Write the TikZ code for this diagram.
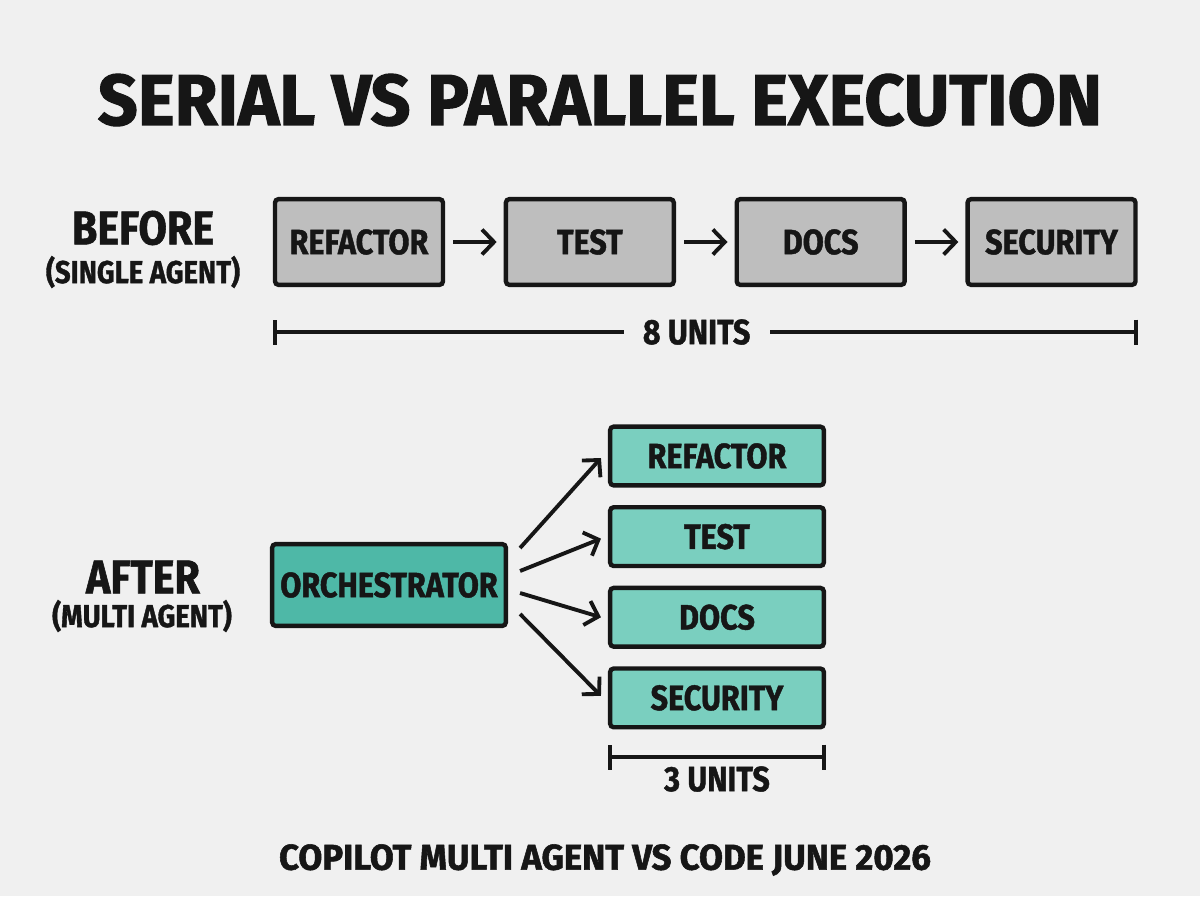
\documentclass[tikz,border=0pt]{standalone}
\usepackage{fontspec}
\setmainfont{Fira Sans}[FakeStretch=0.87,FakeBold=1.2]
\newfontfamily\widefont{Fira Sans}[FakeStretch=0.97,FakeBold=1.5]
\usetikzlibrary{arrows.meta,calc,positioning}
\definecolor{PaperGray}{RGB}{240,240,240}
\definecolor{BoxGray}{RGB}{190,190,190}
\definecolor{TealDark}{RGB}{78,184,167}
\definecolor{TealLight}{RGB}{122,207,191}
\definecolor{InkBlack}{RGB}{22,22,22}
\tikzset{
  taskbox/.style={draw=InkBlack,line width=2.5pt,rounded corners=2pt,
    text=InkBlack,font=\bfseries\fontsize{20}{22}\selectfont},
  serialbox/.style={taskbox,fill=BoxGray,minimum width=3.36cm,minimum height=1.715cm},
  agentbox/.style={taskbox,fill=TealLight,minimum width=4.275cm,minimum height=1.175cm},
  flowarrow/.style={->,line width=2.2pt,InkBlack},
  spanline/.style={{Bar[width=5mm]}-{Bar[width=5mm]},line width=2.2pt,InkBlack},
  spanlabel/.style={text=InkBlack,font=\bfseries\fontsize{20}{22}\selectfont},
  sidehead/.style={text=InkBlack,font=\bfseries\fontsize{27}{30}\selectfont},
  sidesub/.style={text=InkBlack,font=\bfseries\fontsize{18}{20}\selectfont}
}

\begin{document}
\begin{tikzpicture}[x=0.02cm,y=-0.02cm,>={Straight Barb[length=2.4mm,width=5mm]}]
  \path[use as bounding box,fill=PaperGray] (0,0) rectangle (1200,896);

  % title
  \node[text=InkBlack,font=\widefont\bfseries\fontsize{41}{44}\selectfont] (title) at (600,100)
    {SERIAL VS PARALLEL EXECUTION};

  % before: one agent, tasks in a row
  \node[sidehead] (before) at (143,228) {BEFORE};
  \node[sidesub] (beforesub) at (143,272) {(SINGLE AGENT)};
  \node[serialbox] (sRefactor) at (359,242) {REFACTOR};
  \node[serialbox,right=1.17cm of sRefactor] (sTest) {TEST};
  \node[serialbox,right=1.17cm of sTest] (sDocs) {DOCS};
  \node[serialbox,right=1.17cm of sDocs] (sSecurity) {SECURITY};
  \draw[flowarrow] ($(sRefactor.east)+(8,0)$) -- ($(sTest.west)+(-7,0)$);
  \draw[flowarrow] ($(sTest.east)+(8,0)$) -- ($(sDocs.west)+(-7,0)$);
  \draw[flowarrow] ($(sDocs.east)+(8,0)$) -- ($(sSecurity.west)+(-7,0)$);

  \coordinate (serialL) at (sRefactor.west |- 0,332);
  \coordinate (serialR) at (sSecurity.east |- 0,332);
  \draw[spanline] (serialL) -- node[pos=0.49,fill=PaperGray,spanlabel,inner xsep=11pt] (serialUnits) {8 UNITS} (serialR);

  % after: orchestrator fans out
  \node[sidehead] (after) at (143,577) {AFTER};
  \node[sidesub] (aftersub) at (142,616) {(MULTI AGENT)};
  \node[taskbox,fill=TealDark,minimum width=4.675cm,minimum height=1.635cm] (orch) at (389,585) {ORCHESTRATOR};
  \node[agentbox] (pRefactor) at (717,456) {REFACTOR};
  \node[agentbox,below=0.35cm of pRefactor] (pTest) {TEST};
  \node[agentbox,below=0.35cm of pTest] (pDocs) {DOCS};
  \node[agentbox,below=0.35cm of pDocs] (pSecurity) {SECURITY};
  \draw[flowarrow] ($(orch.east)+(12,-37)$) -- ($(pRefactor.west)+(-7,2)$);
  \draw[flowarrow] ($(orch.east)+(12,-14)$) -- ($(pTest.west)+(-7,2)$);
  \draw[flowarrow] ($(orch.east)+(12,8)$) -- ($(pDocs.west)+(-7,0)$);
  \draw[flowarrow] ($(orch.east)+(12,29)$) -- ($(pSecurity.west)+(-7,-2)$);

  \coordinate (parL) at (pSecurity.west |- 0,757);
  \coordinate (parR) at (pSecurity.east |- 0,757);
  \draw[spanline] (parL) -- (parR);
  \node[spanlabel] (parUnits) at (717,779) {3 UNITS};

  % footer
  \node[text=InkBlack,font=\widefont\bfseries\fontsize{20.4}{23}\selectfont] (footer) at (605,860)
    {COPILOT MULTI AGENT VS CODE JUNE 2026};
\end{tikzpicture}
\end{document}
